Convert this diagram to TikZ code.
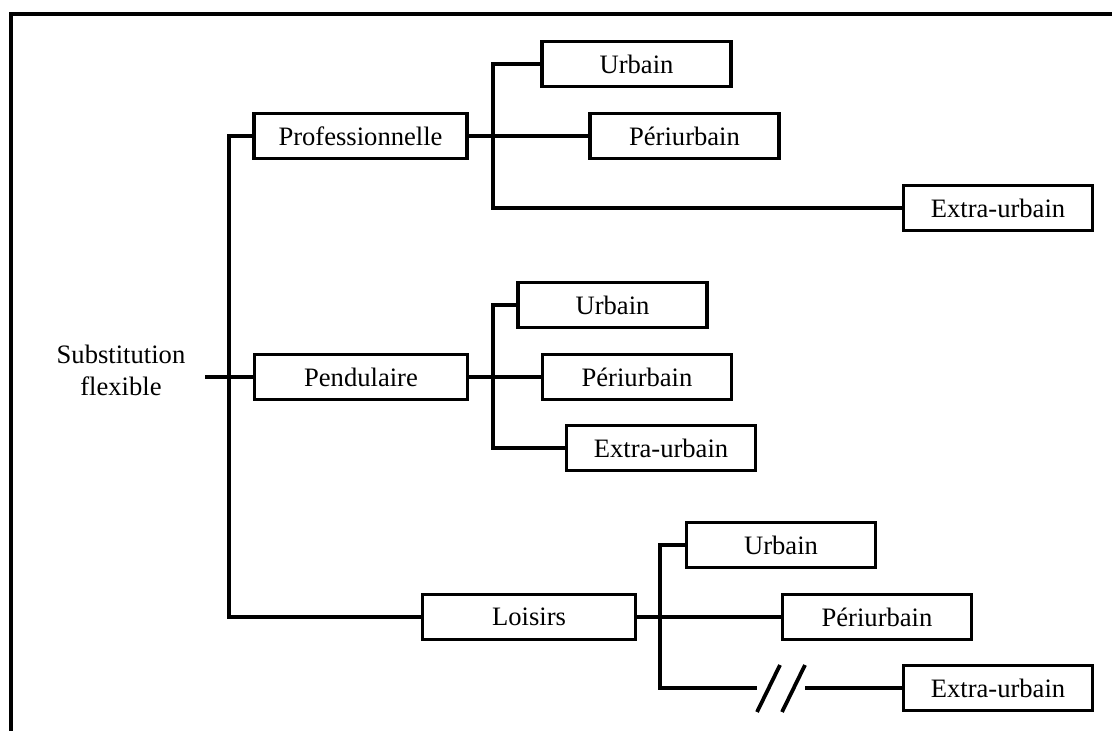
\documentclass[tikz,border=0pt]{standalone}
\usepackage{fontspec}
\setmainfont{Liberation Serif}
\usetikzlibrary{positioning}

\begin{document}
\begin{tikzpicture}[x=0.5pt, y=-0.5pt, line width=1.9pt,
  every node/.style={font=\fontsize{13.3}{16}\selectfont},
  gross/.style={draw, minimum width=106.5pt, minimum height=22.5pt, inner sep=0pt},
  klein/.style={draw, minimum width=94.5pt, minimum height=22.5pt, inner sep=0pt}]

\useasboundingbox (0,0) rectangle (1112,731);

% Rahmen
\draw (11,731) -- (11,14) -- (1112,14);

% Wurzel
\node[align=center] (wurzel) at (121,370) {Substitution\\flexible};
\coordinate (s0) at (205,377);

% Erste Ebene
\node[gross] (prof) at (360.5,136) {Professionnelle};
\node[gross] (pend) at (361,377) {Pendulaire};
\node[gross] (lois) at (529,617) {Loisirs};

% Zweite Ebene
\node[klein] (pu) at (636.5,64) {Urbain};
\node[klein] (pp) at (684.5,136) {Périurbain};
\node[klein] (pe) at (998,208) {Extra-urbain};

\node[klein] (du) at (612.5,305) {Urbain};
\node[klein] (dp) at (637,377) {Périurbain};
\node[klein] (de) at (661,448) {Extra-urbain};

\node[klein] (lu) at (781,545) {Urbain};
\node[klein] (lp) at (877,617) {Périurbain};
\node[klein] (le) at (998,688) {Extra-urbain};

% Verzweigungspunkte
\coordinate (t) at (229,377);
\coordinate (bp) at (493,136);
\coordinate (bd) at (493,377);
\coordinate (bl) at (660,617);
\coordinate (c1) at (757,688);
\coordinate (c2) at (805,688);

% Verbindungen
\draw (s0) -- (pend.west);
\draw (prof.west) -| (t) |- (lois.west);

\draw (prof.east) -- (pp.west);
\draw (pu.west) -| (bp) |- (pe.west);

\draw (pend.east) -- (dp.west);
\draw (du.west) -| (bd) |- (de.west);

\draw (lois.east) -- (lp.west);
\draw (lu.west) -| (bl) |- (c1);
\draw (c2) -- (le.west);

% Unterbrechung
\draw (c1) ++(0,24) -- ++(23,-47);
\draw (c1) ++(25,24) -- ++(23,-47);

\end{tikzpicture}
\end{document}
